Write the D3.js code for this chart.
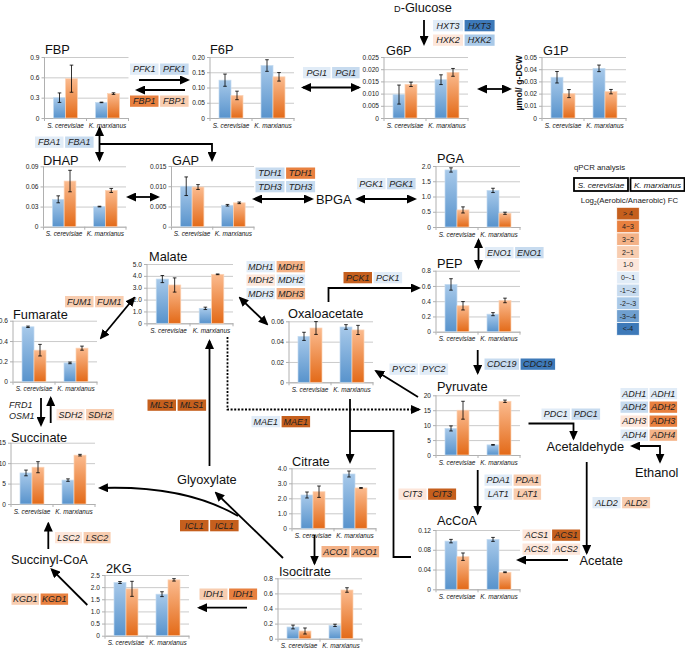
<!DOCTYPE html>
<html><head><meta charset="utf-8">
<script src="https://cdn.jsdelivr.net/npm/d3@7"></script>
<style>
body{margin:0;background:#fff}
svg{display:block}
text{font-family:"Liberation Sans",Arial,Helvetica,sans-serif}
</style>
</head><body>
<svg id="c" width="685" height="648"></svg>
<script>
// ---------------- DATA ----------------
const strains = ["S. cerevisiae", "K. marxianus"];
const metabolites = ["FBP","F6P","G6P","G1P","DHAP","GAP","PGA","PEP","Malate","Fumarate",
  "Oxaloacetate","Pyruvate","Citrate","Isocitrate","AcCoA","Succinate","2KG"];
// blue series [S. cerevisiae, K. marxianus]
const blueValues = [[0.30,0.23],[0.124,0.172],[0.0096,0.0157],[0.0334,0.0407],[0.0408,0.0300],
  [0.0100,0.0053],[1.87,1.20],[0.62,0.23],[3.73,1.26],[0.54,0.185],[0.0452,0.0544],[8.9,3.4],
  [2.22,3.62],[0.155,0.177],[0.0975,0.101],[7.6,5.85],[2.19,1.71]];
const blueSD = [[0.07,0.004],[0.02,0.019],[0.0039,0.002],[0.0047,0.0027],[0.0052,0.0005],
  [0.0023,0.0002],[0.07,0.07],[0.075,0.02],[0.3,0.1],[0.007,0.008],[0.004,0.0023],[0.85,0.12],
  [0.2,0.2],[0.025,0.015],[0.0035,0.004],[0.7,0.3],[0.04,0.1]];
// orange series [S. cerevisiae, K. marxianus]
const orangeValues = [[0.58,0.36],[0.074,0.135],[0.0138,0.0187],[0.020,0.0216],[0.068,0.054],
  [0.0098,0.0059],[0.56,0.45],[0.34,0.41],[3.23,4.13],[0.31,0.33],[0.0534,0.0515],[15.0,18.0],
  [2.44,2.69],[0.102,0.645],[0.066,0.0345],[9.0,11.95],[1.93,2.30]];
const orangeSD = [[0.2,0.012],[0.014,0.014],[0.0009,0.0016],[0.0033,0.0018],[0.016,0.003],
  [0.0006,0.0002],[0.1,0.035],[0.055,0.03],[0.6,0.03],[0.057,0.02],[0.0063,0.0045],[3.0,0.4],
  [0.38,0.03],[0.04,0.03],[0.0075,0.0008],[1.35,0.2],[0.31,0.05]];
const tickLabels = [
  ["0","0.3","0.6","0.9"],
  ["0","0.05","0.10","0.15","0.20"],
  ["0","0.005","0.010","0.015","0.020","0.025"],
  ["0","0.01","0.02","0.03","0.04","0.05"],
  ["0","0.03","0.06","0.09"],
  ["0","0.005","0.010","0.015"],
  ["0","0.5","1.0","1.5","2.0"],
  ["0","0.2","0.4","0.6","0.8"],
  ["0","1.0","2.0","3.0","4.0","5.0"],
  ["0","0.2","0.4","0.6"],
  ["0","0.02","0.04","0.06"],
  ["0","5","10","15","20"],
  ["0","1.0","2.0","3.0","4.0"],
  ["0","0.2","0.4","0.6","0.8"],
  ["0","0.04","0.08","0.12"],
  ["0","5","10","15"],
  ["0","0.5","1.0","1.5","2.0","2.5"]
];
const genes  = ["HXT3","HXK2","PFK1","FBP1","PGI1","FBA1","TDH1","TDH3","PGK1","ENO1","CDC19","PCK1",
  "PYC2","MDH1","MDH2","MDH3","FUM1","SDH2","LSC2","KGD1","IDH1","ACO1","CIT3","MLS1","ICL1","MAE1",
  "PDA1","LAT1","PDC1","ADH1","ADH2","ADH3","ADH4","ALD2","ACS1","ACS2"];
const scLevel = [-1,1,-1,4,-1,-1,-2,-2,-1,-1,-2,5,-1,-1,1,-1,2,1,1,2,2,3,1,5,5,-1,-1,-1,-1,-1,-2,1,-1,-1,1,1];
const kmLevel = [-5,-3,-2,2,-2,-2,4,-2,-2,-2,-5,-1,-1,3,-1,3,2,2,2,4,4,3,5,5,5,5,2,2,-2,-1,4,4,3,2,5,1];
const legendLabels = ["> 4","4~3","3~2","2~1","1-0","0~-1","-1~-2","-2~-3","-3~-4","<-4"];
const legendLevels = [5,4,3,2,1,-1,-2,-3,-4,-5];

// ---------------- STYLE / LAYOUT ----------------
const levelColor = d3.scaleOrdinal().domain(legendLevels)
  .range(["#c55f1d","#e8803f","#f4b287","#f8cdb0","#fde6da","#e1ecf7","#c7dbef","#a9c9e8","#6f9fcf","#3d79b8"]);

const chartLayout = [
 {L:44.5,R:128.5,T:57,B:118,tx:45,ty:54.3},
 {L:210,R:294,T:57,B:118,tx:210,ty:54.3},
 {L:384,R:468,T:57,B:118,tx:386,ty:55},
 {L:542,R:626,T:57,B:118,tx:543,ty:55},
 {L:43.5,R:126,T:166.3,B:226.7,tx:43,ty:164.5},
 {L:171.5,R:254,T:166,B:226.7,tx:172,ty:164.5},
 {L:436,R:520,T:166,B:227,tx:437,ty:162.7},
 {L:436,R:520,T:270.7,B:331.7,tx:437,ty:268.3},
 {L:147,R:233,T:264,B:323.3,tx:149,ty:261},
 {L:13,R:97,T:320.7,B:381.7,tx:13,ty:319},
 {L:289,R:373,T:321.3,B:382.3,tx:288,ty:317.7},
 {L:436,R:520,T:395.3,B:455,tx:437,ty:390.5},
 {L:292,R:376,T:468.3,B:528.3,tx:292,ty:466},
 {L:278,R:362,T:578.3,B:638.7,tx:279,ty:576},
 {L:436,R:520,T:530,B:589.3,tx:437,ty:525},
 {L:11,R:95,T:442.7,B:504,tx:11,ty:441.7},
 {L:105,R:189,T:575,B:635.7,tx:106,ty:572.7}
];

const geneLayout = {
 HXT3:[433,20,30], HXK2:[433,34.5,30], PFK1:[130,63.5,28.5], FBP1:[130,95.5,28.5],
 PGI1:[303,67,27.5], FBA1:[35,136.5,28.5], TDH1:[255.5,167.5,29], TDH3:[255.5,181,29],
 PGK1:[357,178,28.5], ENO1:[485,247,28.5], CDC19:[484.5,358.5,34.5], PCK1:[343.5,272,28.5],
 PYC2:[389.5,363.5,28.5], MDH1:[246.5,261,28.5], MDH2:[246.5,274.5,28.5], MDH3:[246.5,288,28.5],
 FUM1:[65,296,28.5], SDH2:[56.5,409,28], LSC2:[55,532,27], KGD1:[11.5,593.5,27.5],
 IDH1:[199.5,588.5,28], ACO1:[321.5,546,28], CIT3:[398.5,488.5,28], MLS1:[147.5,399.5,28.5],
 ICL1:[180,520,28.5], MAE1:[251.5,416,28.5], PDA1:[484.5,474.5,27.5], LAT1:[484.5,488.5,27.5],
 PDC1:[541.5,408.5,28.5], ADH1:[620.5,388,27.5], ADH2:[620.5,401.5,27.5], ADH3:[620.5,415.5,27.5],
 ADH4:[620.5,429.5,27.5], ALD2:[592.5,497,28], ACS1:[522.5,529.5,28], ACS2:[522.5,543.5,28]
};

const svg = d3.select("#c");
const defs = svg.append("defs");
function grad(id, c1, c2){
  const g = defs.append("linearGradient").attr("id",id).attr("x1",0).attr("y1",0).attr("x2",0).attr("y2",1);
  g.append("stop").attr("offset","0%").attr("stop-color",c1);
  g.append("stop").attr("offset","100%").attr("stop-color",c2);
}
grad("gBlue","#a7c9ea","#5893cc");
grad("gOrange","#fbbb8f","#e36a18");
defs.append("marker").attr("id","ah").attr("viewBox","0 0 10 9")
  .attr("markerWidth",10).attr("markerHeight",9).attr("refX",8).attr("refY",4.5)
  .attr("markerUnits","userSpaceOnUse").attr("orient","auto-start-reverse")
  .append("path").attr("d","M0,0L10,4.5L0,9Z").attr("fill","#000");

// ---------------- CHARTS ----------------
const seriesKeys = ["blue","orange"];
metabolites.forEach((m,i)=>{
  const lay = chartLayout[i];
  const ticks = tickLabels[i].map(Number);
  const y = d3.scaleLinear().domain([0, d3.max(ticks)]).range([lay.B, lay.T]);
  const x0 = d3.scaleBand().domain(strains).range([lay.L, lay.R]);
  const x1 = d3.scaleBand().domain(seriesKeys).range([0, x0.bandwidth()]).paddingInner(0).paddingOuter(0.75);
  const g = svg.append("g");
  // gridlines
  const grid = g.append("g").attr("transform",`translate(${lay.L},0)`)
    .call(d3.axisLeft(y).tickValues(ticks).tickSize(-(lay.R-lay.L)).tickFormat(""));
  grid.select(".domain").remove();
  grid.selectAll("line").attr("stroke","#c4c4c4").attr("stroke-width",0.9);
  // y axis
  const ax = g.append("g").attr("transform",`translate(${lay.L},0)`)
    .call(d3.axisLeft(y).tickValues(ticks).tickFormat((d,j)=>tickLabels[i][j]).tickSize(3).tickPadding(2));
  ax.select(".domain").attr("d",`M0,${lay.T}V${lay.B}`).attr("stroke","#b0b0b0");
  ax.selectAll("line").attr("stroke","#b0b0b0");
  ax.selectAll("text").attr("font-size","6.6px").attr("fill","#222")
    .attr("font-family","'Liberation Sans',Arial,sans-serif");
  // x axis
  const xa = g.append("g").attr("transform",`translate(0,${lay.B})`)
    .call(d3.axisBottom(x0).tickSize(0).tickFormat(""));
  xa.select(".domain").attr("stroke","#b0b0b0");
  xa.selectAll(".tick").remove();
  [lay.L, lay.L + x0.bandwidth(), lay.R].forEach(xx=>{
    g.append("line").attr("x1",xx).attr("x2",xx).attr("y1",lay.B).attr("y2",lay.B+3).attr("stroke","#b0b0b0");
  });
  g.selectAll(".xl").data(strains).join("text")
    .attr("x",d=>x0(d)+x0.bandwidth()/2).attr("y",lay.B+9.5)
    .attr("text-anchor","middle").attr("font-size","6.4px").attr("font-style","italic").attr("fill","#111")
    .text(d=>d);
  // bars
  const rows = [];
  strains.forEach((s,k)=>{
    rows.push({s, key:"blue", v:blueValues[i][k], e:blueSD[i][k]});
    rows.push({s, key:"orange", v:orangeValues[i][k], e:orangeSD[i][k]});
  });
  g.selectAll(".bar").data(rows).join("rect")
    .attr("x",d=>x0(d.s)+x1(d.key)).attr("width",x1.bandwidth())
    .attr("y",d=>y(d.v)).attr("height",d=>y(0)-y(d.v))
    .attr("fill",d=>d.key==="blue"?"url(#gBlue)":"url(#gOrange)")
    .attr("stroke",d=>d.key==="blue"?"#c3dbf0":"#fcd3b6").attr("stroke-width",0.7);
  // error bars
  const eb = g.selectAll(".eb").data(rows).join("g");
  eb.append("line")
    .attr("x1",d=>x0(d.s)+x1(d.key)+x1.bandwidth()/2).attr("x2",d=>x0(d.s)+x1(d.key)+x1.bandwidth()/2)
    .attr("y1",d=>y(d.v+d.e)).attr("y2",d=>y(d.v-d.e)).attr("stroke","#000").attr("stroke-width",0.8);
  [1,-1].forEach(sg=>{
    eb.append("line")
      .attr("x1",d=>x0(d.s)+x1(d.key)+x1.bandwidth()/2-1.8).attr("x2",d=>x0(d.s)+x1(d.key)+x1.bandwidth()/2+1.8)
      .attr("y1",d=>y(d.v+sg*d.e)).attr("y2",d=>y(d.v+sg*d.e)).attr("stroke","#000").attr("stroke-width",0.8);
  });
  // title
  g.append("text").attr("x",lay.tx).attr("y",lay.ty).attr("font-size","12.8px").attr("fill","#111").text(m);
});

// y-axis unit label next to G1P
svg.append("text").attr("transform","translate(522,83) rotate(-90)").attr("text-anchor","middle")
  .attr("font-size","8.8px").attr("font-weight","bold").attr("fill","#111").text("µmol/ g-DCW");

// ---------------- GENE BOXES ----------------
genes.forEach((gname,i)=>{
  const [gx,gy,w] = geneLayout[gname];
  const h = 11.3;
  [[scLevel[i],gx],[kmLevel[i],gx+w+1.6]].forEach(([lv,bx])=>{
    svg.append("rect").attr("x",bx).attr("y",gy).attr("width",w).attr("height",h).attr("fill",levelColor(lv));
    svg.append("text").attr("x",bx+w/2).attr("y",gy+h/2+3.2).attr("text-anchor","middle")
      .attr("font-size","9px").attr("font-style","italic").attr("fill","#222").text(gname);
  });
});
// FRD1 / OSM1 (no boxes)
svg.append("text").attr("x",9).attr("y",408).attr("font-size","9px").attr("font-style","italic").attr("fill","#222").text("FRD1");
svg.append("text").attr("x",9).attr("y",418.5).attr("font-size","9px").attr("font-style","italic").attr("fill","#222").text("OSM1");

// ---------------- NODE LABELS ----------------
const big = (x,y,t)=>svg.append("text").attr("x",x).attr("y",y).attr("font-size","12.8px").attr("fill","#111").text(t);
const glc = svg.append("text").attr("x",394).attr("y",12).attr("fill","#111");
glc.append("tspan").attr("font-size","9.2px").text("D");
glc.append("tspan").attr("font-size","12.8px").text("-Glucose");
big(316,203.5,"BPGA");
big(177,483.5,"Glyoxylate");
big(11,564,"Succinyl-CoA");
big(546.5,450.5,"Acetaldehyde");
big(635,476.5,"Ethanol");
big(579.5,564.5,"Acetate");

// ---------------- ARROWS ----------------
const arrows = [
  {d:"M139,80H188", e:1},
  {d:"M185,90H137", e:1},
  {d:"M303,87.5H359", s:1, e:1},
  {d:"M424,20V44", e:1},
  {d:"M479,89H510", s:1, e:1},
  {d:"M99.5,128V160", s:1, e:1},
  {d:"M99.5,144H212V160", e:1},
  {d:"M128,197H158", s:1, e:1},
  {d:"M254,199H312", s:1, e:1},
  {d:"M357,199H415", s:1, e:1},
  {d:"M478.5,240V268", s:1, e:1},
  {d:"M477.7,350V373", e:1},
  {d:"M328.5,302V288H419", e:1},
  {d:"M418,397L376,371", e:1},
  {d:"M240,298L267,324", s:1, e:1},
  {d:"M101,338L134,298", s:1, e:1},
  {d:"M227.5,337V409.5H419", e:1, dash:1},
  {d:"M350,399V462", e:1},
  {d:"M411,557H393.5V431H350"},
  {d:"M209.5,466V341", e:1},
  {d:"M283,558L216,493", e:1},
  {d:"M238,516Q185,485 100,488", e:1},
  {d:"M247,607.7H199", e:1},
  {d:"M314.5,535V563.5", e:1},
  {d:"M87.3,605L51.7,569.3", e:1},
  {d:"M48.3,549V523.5", e:1},
  {d:"M41,398V425", e:1},
  {d:"M50.7,423V398", e:1},
  {d:"M528.5,423.5H573.5V438.5", e:1},
  {d:"M632,446H660V461.7", s:1, e:1},
  {d:"M586.7,462V553", e:1},
  {d:"M568,560H518", e:1},
  {d:"M477.7,470V513.5", e:1}
];
svg.append("g").selectAll("path").data(arrows).join("path")
  .attr("d",d=>d.d).attr("fill","none").attr("stroke","#000").attr("stroke-width",1.8)
  .attr("stroke-dasharray",d=>d.dash?"2,1.6":null)
  .attr("marker-start",d=>d.s?"url(#ah)":null)
  .attr("marker-end",d=>d.e?"url(#ah)":null);

// ---------------- LEGEND ----------------
svg.append("text").attr("x",574).attr("y",170).attr("font-size","7.8px").attr("fill","#222").text("qPCR analysis");
[[574,strains[0]],[630.5,strains[1]]].forEach(([bx,t])=>{
  svg.append("rect").attr("x",bx).attr("y",178).attr("width",54).attr("height",13)
    .attr("fill","#fff").attr("stroke","#000").attr("stroke-width",1.8);
  svg.append("text").attr("x",bx+27).attr("y",187.7).attr("text-anchor","middle")
    .attr("font-size","8.1px").attr("font-style","italic").attr("fill","#111").text(t);
});
const lg = svg.append("text").attr("x",629.5).attr("y",203).attr("text-anchor","middle").attr("font-size","7.8px").attr("fill","#222");
lg.append("tspan").text("Log");
lg.append("tspan").attr("font-size","5px").attr("dy",2).text("2");
lg.append("tspan").attr("dy",-2).text("(Aerobic/Anaerobic) FC");
const ly = d3.scaleBand().domain(legendLabels).range([207.3, 335.3]);
svg.selectAll(".lc").data(legendLabels).join("rect")
  .attr("x",616.7).attr("width",22.6).attr("y",d=>ly(d)).attr("height",ly.bandwidth())
  .attr("fill",(d,i)=>levelColor(legendLevels[i])).attr("stroke","#fff").attr("stroke-width",0.8);
svg.selectAll(".lt").data(legendLabels).join("text")
  .attr("x",628).attr("y",d=>ly(d)+ly.bandwidth()/2+2.5).attr("text-anchor","middle")
  .attr("font-size","7px").attr("fill","#222").text(d=>d);
</script>
</body></html>
